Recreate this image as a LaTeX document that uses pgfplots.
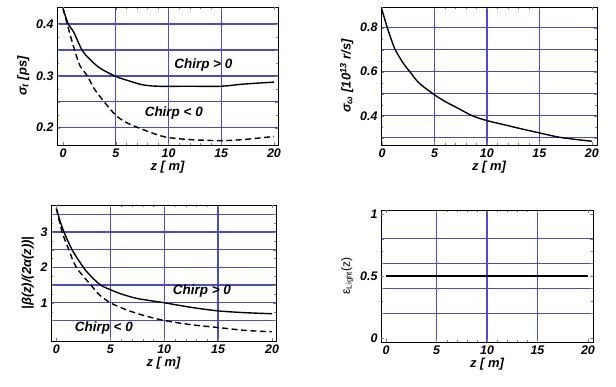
\documentclass[border=0pt]{standalone}
\usepackage{fontspec}
\setmainfont{Liberation Sans}
\usepackage{pgfplots}
\pgfplotsset{compat=1.18}
\definecolor{gridblue}{RGB}{75,75,195}
\pgfplotsset{
  panel/.style={
    scale only axis,
    axis line style={black, line width=0.6pt},
    tick align=inside,
    xtick pos=both, ytick pos=both,
    major tick length=3bp, minor tick length=1.6bp,
    /pgf/number format/assume math mode=true,
    tick label style={font=\fontsize{12.5}{13}\selectfont\bfseries\itshape},
    xticklabel pos=bottom, yticklabel pos=left,
    grid=major,
    major grid style={draw=gridblue, line width=1.25pt},
    xtick={5,10,15},
    minor x tick num=4,
    extra x ticks={0,20},
    extra x tick style={grid=none},
    extra y tick style={grid=none},
    xlabel={z [ m]},
    label style={font=\fontsize{13}{14}\selectfont\bfseries\itshape},
    xlabel style={yshift=3bp},
    clip=true,
  },
  curve/.style={black, line width=1.4pt, smooth, no marks},
  dcurve/.style={black, line width=1.4pt, smooth, no marks, dash pattern=on 6pt off 3.5pt},
}
\begin{document}
\begin{tikzpicture}
\useasboundingbox (0,0) rectangle (616bp,387bp);
% Panel 1
\begin{axis}[panel, at={(57bp,242bp)}, anchor=south west, width=221bp, height=138bp,
  xmin=-0.57, xmax=20.38, ymin=0.1666, ymax=0.433,
  ytick={0.2,0.25,0.3,0.35,0.4},
  yticklabels={0.2,,0.3,,0.4},
  minor y tick num=1,
  ylabel={σ\textsubscript{t} [ps]}]
\addplot[curve] coordinates {(0,0.43) (0.5,0.40) (1,0.385) (1.8,0.35) (2.5,0.333) (3.5,0.315) (5,0.299) (6,0.292) (7.5,0.283) (9,0.280) (12,0.280) (15,0.280) (17,0.284) (20,0.288)};
\addplot[dcurve] coordinates {(0,0.43) (0.6,0.385) (1.1,0.35) (1.6,0.32) (2.3,0.30) (3,0.274) (3.9,0.25) (5,0.224) (6,0.21) (7.5,0.197) (9,0.186) (10,0.181) (12,0.177) (15,0.175) (17,0.177) (20,0.183)};
\node[font=\fontsize{13.5}{14}\selectfont\bfseries\itshape] at (axis cs:13.3,0.321) {Chirp > 0};
\node[font=\fontsize{13.5}{14}\selectfont\bfseries\itshape] at (axis cs:10.5,0.228) {Chirp < 0};
\end{axis}
% Panel 2
\begin{axis}[panel, at={(381bp,242bp)}, anchor=south west, width=216bp, height=138bp,
  xmin=-0.1, xmax=20.5, ymin=0.267, ymax=0.894,
  ytick={0.3,0.4,0.5,0.6,0.7,0.8},
  yticklabels={,0.4,,0.6,,0.8},
  minor y tick num=1,
  ylabel={σ\textsubscript{ω} [10\textsuperscript{13} r/s]}]
\addplot[curve] coordinates {(0,0.88) (0.5,0.8) (1,0.73) (1.25,0.70) (2,0.64) (2.65,0.6) (3.5,0.55) (4.85,0.5) (6,0.465) (7,0.44) (8.6,0.40) (10,0.378) (12,0.355) (13.5,0.338) (15,0.322) (16.7,0.304) (18,0.295) (20,0.284)};
\end{axis}
% Panel 3
\begin{axis}[panel, at={(51bp,46bp)}, anchor=south west, width=225bp, height=136bp,
  xmin=-0.5, xmax=20.37, ymin=-0.08, ymax=3.76,
  ytick={0.5,1,1.5,2,2.5,3,3.5},
  yticklabels={,1,,2,,3,},
  minor y tick num=1,
  ylabel={|β(z)/(2α(z))|}]
\addplot[curve] coordinates {(0,3.66) (0.35,3.3) (0.7,3.0) (1.45,2.5) (2.5,2.0) (3.2,1.75) (4.1,1.5) (5,1.37) (6,1.25) (7.5,1.12) (10,1.0) (12.5,0.87) (15,0.77) (17.5,0.72) (20,0.69)};
\addplot[dcurve] coordinates {(0,3.66) (0.53,3.0) (1.15,2.5) (1.85,2.0) (3.2,1.5) (4,1.22) (5,1.0) (6.5,0.8) (8,0.65) (10,0.5) (12.5,0.38) (15,0.3) (17.5,0.22) (20,0.18)};
\node[font=\fontsize{13.5}{14}\selectfont\bfseries\itshape] at (axis cs:13.5,1.33) {Chirp > 0};
\node[font=\fontsize{13.5}{14}\selectfont\bfseries\itshape] at (axis cs:4.4,0.30) {Chirp < 0};
\end{axis}
% Panel 4
\begin{axis}[panel, at={(381bp,45bp)}, anchor=south west, width=212bp, height=132bp,
  xmin=-0.5, xmax=20.5, ymin=-0.03, ymax=1.03,
  ytick={0.2,0.4,0.6,0.8},
  yticklabels={},
  minor y tick num=1,
  extra y ticks={0,0.5,1},
  ylabel={ε\textsubscript{Light}(z)},
  ylabel style={font=\fontsize{12}{13}\selectfont}]
\addplot[black, line width=1.5pt, no marks] coordinates {(0,0.5) (5,0.5) (10,0.5) (15,0.5) (20,0.5)};
\end{axis}
\end{tikzpicture}
\end{document}
